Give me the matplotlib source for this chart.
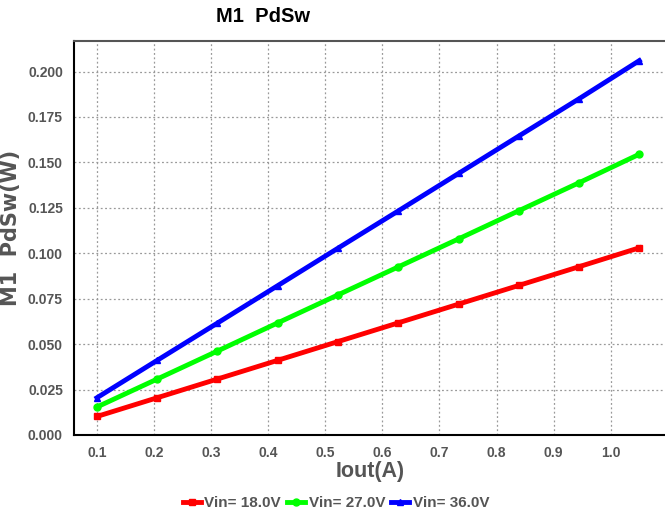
import matplotlib
matplotlib.use("Agg")
import matplotlib.pyplot as plt
import numpy as np

plt.rcParams['font.family'] = ['Liberation Sans', 'DejaVu Sans']

iout = [0.100, 0.2056, 0.3111, 0.4167, 0.5222, 0.6278, 0.7333, 0.8389, 0.9444, 1.050]
pd_18 = [0.0102, 0.0205, 0.0308, 0.0411, 0.0514, 0.0617, 0.0720, 0.0823, 0.0926, 0.1030]
pd_27 = [0.0154, 0.0308, 0.0462, 0.0617, 0.0771, 0.0925, 0.1079, 0.1234, 0.1388, 0.1545]
pd_36 = [0.0205, 0.0411, 0.0616, 0.0822, 0.1028, 0.1233, 0.1439, 0.1645, 0.1850, 0.2060]
labels = ["Vin= 18.0V", "Vin= 27.0V", "Vin= 36.0V"]
xticks = [0.1, 0.2, 0.3, 0.4, 0.5, 0.6, 0.7, 0.8, 0.9, 1.0]
yticks = [0.000, 0.025, 0.050, 0.075, 0.100, 0.125, 0.150, 0.175, 0.200]

fig = plt.figure(figsize=(6.65, 5.13), dpi=100)
ax = fig.add_axes([74/665, 78/513, 1 - 74/665, (435-41)/513])

series = [(pd_18, '#ff0000', 's'), (pd_27, '#00ff00', 'o'), (pd_36, '#0000ff', '^')]
for (ys, c, m), lab in zip(series, labels):
    ax.plot(iout, ys, color=c, lw=3.5, marker=m, ms=5, label=lab)

ax.set_xlim(0.0598, 1.095)
ax.set_ylim(0, 0.2168)
ax.set_xticks(xticks)
ax.set_xticklabels([f"{v:.1f}" for v in xticks])
ax.set_yticks(yticks)
ax.set_yticklabels([f"{v:.3f}" for v in yticks])
ax.tick_params(length=0, pad=8, labelsize=10, labelcolor='#555555')
for lab in ax.get_xticklabels() + ax.get_yticklabels():
    lab.set_fontweight('bold')
ax.grid(True, color='#999999', linestyle=(0, (1.5, 2)), lw=0.9)
for s in ['left', 'bottom']:
    ax.spines[s].set_color('black')
    ax.spines[s].set_linewidth(1.5)
ax.spines['top'].set_color('#555555')
ax.spines['top'].set_linewidth(1.5)
ax.spines['right'].set_visible(False)

fig.text(370/665, 1 - 472/513, "Iout(A)", ha='center', va='center', fontsize=15.5,
         fontweight='bold', color='#555555')
fig.text(11/665, 1 - 228/513, "M1  PdSw(W)", ha='center', va='center', rotation=90,
         fontsize=15, fontweight='bold', color='#555555', family=['DejaVu Sans'])
fig.text(263/665, 1 - 17/513, "M1  PdSw", ha='center', va='center', fontsize=14.5,
         fontweight='bold')

leg = fig.legend(loc='center', bbox_to_anchor=(336/665, 1 - 503/513), ncol=3, frameon=False,
                 fontsize=11, handlelength=1.2, handletextpad=0.2, columnspacing=0.4)
for t in leg.get_texts():
    t.set_fontweight('bold')
    t.set_color('#555555')

fig.savefig("out.png", dpi=100)
